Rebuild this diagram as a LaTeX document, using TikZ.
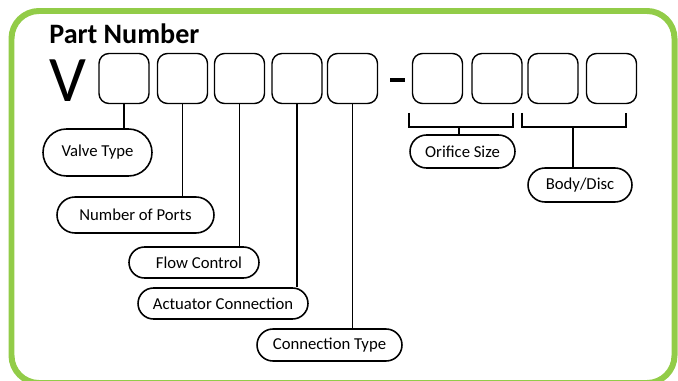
\documentclass[tikz,border=0pt]{standalone}
\usepackage{fontspec}
\setmainfont{Carlito}
\usetikzlibrary{shapes.misc}
\definecolor{framegreen}{RGB}{146,204,72}

\begin{document}
\begin{tikzpicture}[x=0.02cm,y=-0.02cm,
  digit/.style={draw,line width=0.8pt,rounded corners=0.2cm,minimum width=1cm,minimum height=1cm,inner sep=0pt},
  pill/.style={draw,line width=0.9pt,rounded rectangle,inner sep=0pt,font=\fontsize{9.5}{11}\selectfont},
  lead/.style={line width=0.85pt}]
\useasboundingbox (0,0) rectangle (678,381);
\begin{scope}
\clip (0,0) rectangle (678,381);
\draw[framegreen,line width=3.4pt,rounded corners=0.55cm] (11.5,11) rectangle (674.5,383);
\end{scope}
% title and prefix
\node[anchor=base west,inner sep=0pt,font=\fontsize{16}{18}\selectfont\bfseries] (title) at (49,44) {Part Number};
\node[anchor=base west,inner sep=0pt,font=\fontsize{37}{40}\selectfont] (prefix) at (49,102) {V};
% code boxes
\foreach \x/\n in {124/b1,182.5/b2,239.5/b3,297/b4,352.5/b5,437.5/b6,497/b7,553/b8,611.5/b9}{
\node[digit] (\n) at (\x,78.5) {};
}
\fill (390,78) rectangle (405,82);
% labels
\node[pill,minimum width=2.18cm,minimum height=0.94cm] (vtype) at (97.5,152.5) {Valve Type};
\node[pill,minimum width=3.14cm,minimum height=0.72cm] (ports) at (135.5,215) {Number of Ports};
\node[pill,minimum width=2.6cm,minimum height=0.62cm] (flow) at (194,262.5) {\hspace*{0.2cm}Flow Control};
\node[pill,minimum width=3.4cm,minimum height=0.62cm] (act) at (223,303.5) {Actuator Connection};
\node[pill,minimum width=2.9cm,minimum height=0.64cm] (ctype) at (329.5,345) {Connection Type};
\node[pill,minimum width=2.1cm,minimum height=0.66cm] (orifice) at (462.5,151.5) {Orifice Size};
\node[pill,minimum width=2.08cm,minimum height=0.68cm] (body) at (580,185) {Body/Disc};
% leads
\draw[lead] (b1.south) -- (b1.south |- vtype.north);
\draw[lead] (b2.south) -- (b2.south |- ports.north);
\draw[lead] (b3.south) -- (b3.south |- flow.north);
\draw[lead] (b4.south) -- (b4.south |- act.north);
\draw[lead] (b5.south) -- (b5.south |- ctype.north);
% brackets
\coordinate (o1) at (409,113);
\coordinate (o2) at (513,113);
\coordinate (d1) at (522,113);
\coordinate (d2) at (626,113);
\coordinate (ostem) at (459,127);
\coordinate (dstem) at (573,127);
\draw[lead] (o1) -- ++(0,14) -| (o2);
\draw[lead] (d1) -- ++(0,14) -| (d2);
\draw[lead] (ostem) -- (ostem |- orifice.north);
\draw[lead] (dstem) -- (dstem |- body.north);
\end{tikzpicture}
\end{document}
